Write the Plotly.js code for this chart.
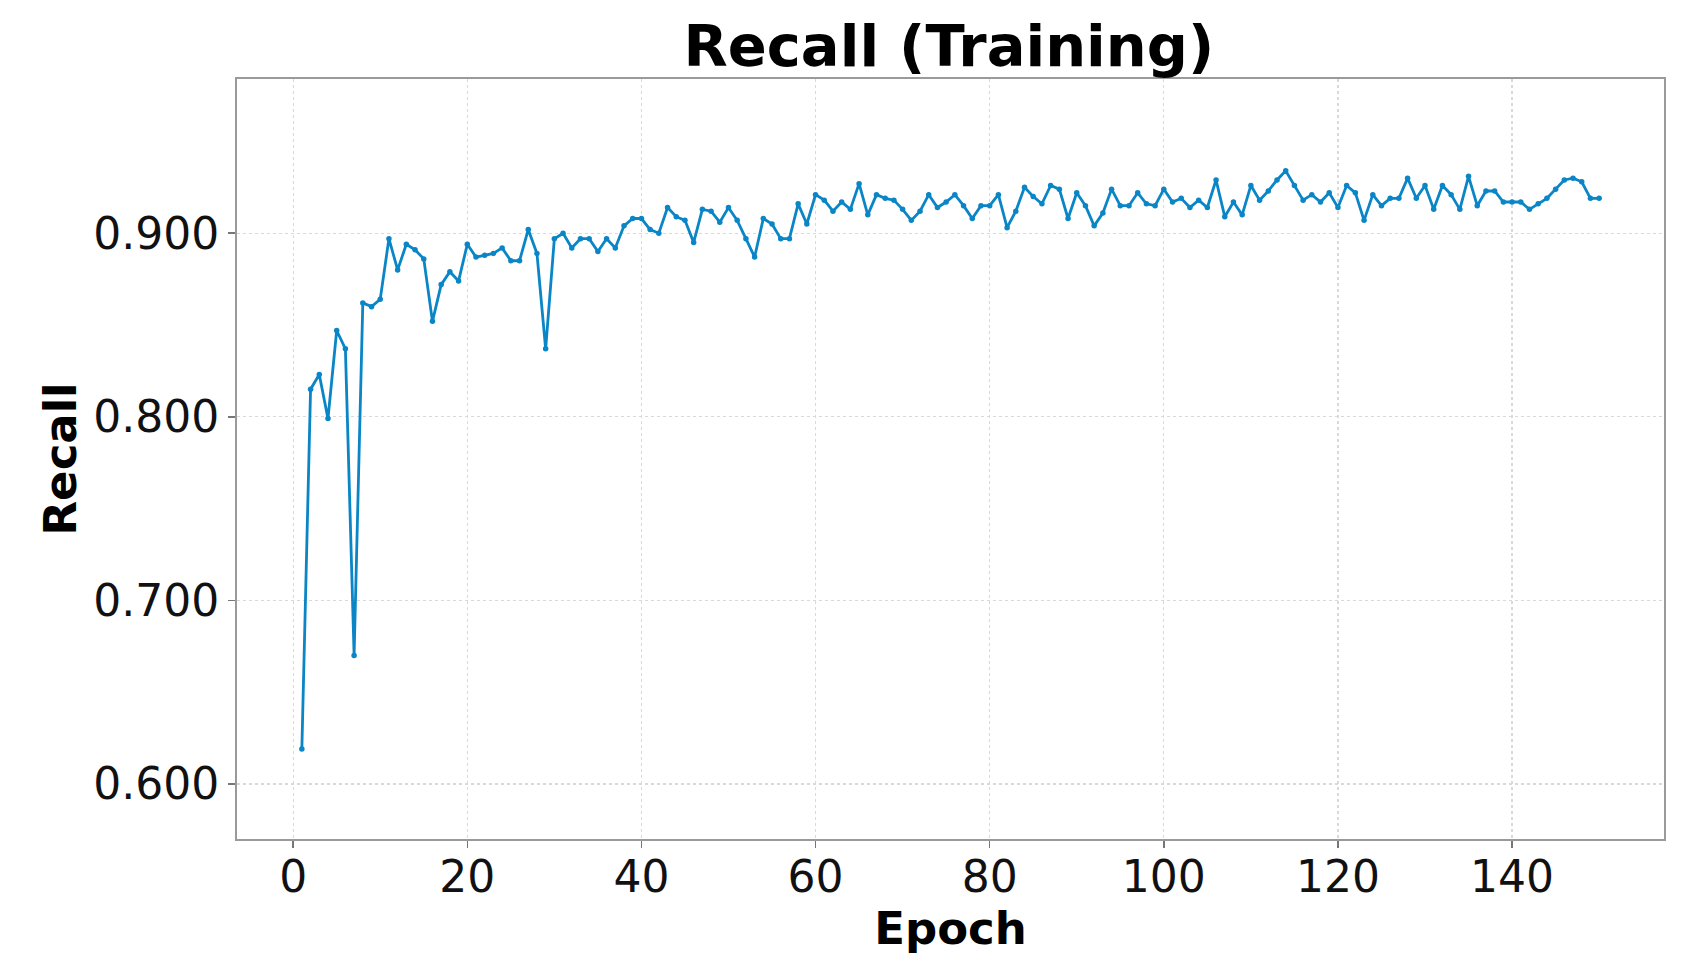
<!DOCTYPE html>
<html>
<head>
<meta charset="utf-8">
<script src="https://cdn.plot.ly/plotly-3.0.1.min.js"></script>
<style>
  html, body { margin: 0; padding: 0; background: #ffffff; }
  #chart { width: 1702px; height: 978px; }
</style>
</head>
<body>
<div id="chart"></div>
<script>
const chartTitle = "Recall (Training)";
const xLabel = "Epoch";
const yLabel = "Recall";

const epochs = [
  1, 2, 3, 4, 5, 6, 7, 8, 9, 10,
  11, 12, 13, 14, 15, 16, 17, 18, 19, 20,
  21, 22, 23, 24, 25, 26, 27, 28, 29, 30,
  31, 32, 33, 34, 35, 36, 37, 38, 39, 40,
  41, 42, 43, 44, 45, 46, 47, 48, 49, 50,
  51, 52, 53, 54, 55, 56, 57, 58, 59, 60,
  61, 62, 63, 64, 65, 66, 67, 68, 69, 70,
  71, 72, 73, 74, 75, 76, 77, 78, 79, 80,
  81, 82, 83, 84, 85, 86, 87, 88, 89, 90,
  91, 92, 93, 94, 95, 96, 97, 98, 99, 100,
  101, 102, 103, 104, 105, 106, 107, 108, 109, 110,
  111, 112, 113, 114, 115, 116, 117, 118, 119, 120,
  121, 122, 123, 124, 125, 126, 127, 128, 129, 130,
  131, 132, 133, 134, 135, 136, 137, 138, 139, 140,
  141, 142, 143, 144, 145, 146, 147, 148, 149, 150
];

const recall = [
  0.619, 0.815, 0.823, 0.799, 0.847, 0.837, 0.670, 0.862, 0.860, 0.864,
  0.897, 0.880, 0.894, 0.891, 0.886, 0.852, 0.872, 0.879, 0.874, 0.894,
  0.887, 0.888, 0.889, 0.892, 0.885, 0.885, 0.902, 0.889, 0.837, 0.897,
  0.900, 0.892, 0.897, 0.897, 0.890, 0.897, 0.892, 0.904, 0.908, 0.908,
  0.902, 0.900, 0.914, 0.909, 0.907, 0.895, 0.913, 0.912, 0.906, 0.914,
  0.907, 0.897, 0.887, 0.908, 0.905, 0.897, 0.897, 0.916, 0.905, 0.921,
  0.918, 0.912, 0.917, 0.913, 0.927, 0.910, 0.921, 0.919, 0.918, 0.913,
  0.907, 0.912, 0.921, 0.914, 0.917, 0.921, 0.915, 0.908, 0.915, 0.915,
  0.921, 0.903, 0.912, 0.925, 0.920, 0.916, 0.926, 0.924, 0.908, 0.922,
  0.915, 0.904, 0.911, 0.924, 0.915, 0.915, 0.922, 0.916, 0.915, 0.924,
  0.917, 0.919, 0.914, 0.918, 0.914, 0.929, 0.909, 0.917, 0.910, 0.926,
  0.918, 0.923, 0.929, 0.934, 0.926, 0.918, 0.921, 0.917, 0.922, 0.914,
  0.926, 0.922, 0.907, 0.921, 0.915, 0.919, 0.919, 0.930, 0.919, 0.926,
  0.913, 0.926, 0.921, 0.913, 0.931, 0.915, 0.923, 0.923, 0.917, 0.917,
  0.917, 0.913, 0.916, 0.919, 0.924, 0.929, 0.930, 0.928, 0.919, 0.919
];

const xTickVals = [0, 20, 40, 60, 80, 100, 120, 140];
const xTickText = ["0", "20", "40", "60", "80", "100", "120", "140"];
const yTickVals = [0.6, 0.7, 0.8, 0.9];
const yTickText = ["0.600", "0.700", "0.800", "0.900"];

const FONT = "DejaVu Sans, Liberation Sans, sans-serif";
const lineColor = "#0a85c6";

const trace = {
  type: "scatter",
  mode: "lines+markers",
  x: epochs,
  y: recall,
  line: { color: lineColor, width: 2.8 },
  marker: { color: lineColor, size: 5.5 },
  hoverinfo: "x+y",
  showlegend: false
};

const axisCommon = {
  showline: true,
  mirror: true,
  linecolor: "#9a9a9a",
  linewidth: 2,
  showgrid: true,
  gridcolor: "#d9d9d9",
  gridwidth: 1.3,
  griddash: "dot",
  zeroline: false,
  ticks: "outside",
  ticklen: 7,
  tickwidth: 1.5,
  tickcolor: "#777",
  tickfont: { family: FONT, size: 44, color: "#111" }
};

const layout = {
  width: 1702,
  height: 978,
  paper_bgcolor: "#ffffff",
  plot_bgcolor: "#ffffff",
  margin: { l: 237, r: 38, t: 79, b: 139 },
  title: {
    text: chartTitle,
    font: { family: FONT, size: 57.5, color: "#000", weight: "bold" },
    x: 0.5575,
    xanchor: "center",
    xref: "container",
    y: 1 - 46 / 978,
    yref: "container",
    yanchor: "middle"
  },
  xaxis: Object.assign({}, axisCommon, {
    range: [-6.45, 157.45],
    tickmode: "array",
    tickvals: xTickVals,
    ticktext: xTickText,
    ticklabelstandoff: -9,
    title: {
      text: xLabel,
      font: { family: FONT, size: 45, color: "#000", weight: "bold" },
      standoff: 8
    }
  }),
  yaxis: Object.assign({}, axisCommon, {
    range: [0.570, 0.984],
    tickmode: "array",
    tickvals: yTickVals,
    ticktext: yTickText,
    title: {
      text: yLabel,
      font: { family: FONT, size: 45, color: "#000", weight: "bold" },
      standoff: 2
    }
  })
};

Plotly.newPlot("chart", [trace], layout, { displayModeBar: false, staticPlot: true });
</script>
</body>
</html>
